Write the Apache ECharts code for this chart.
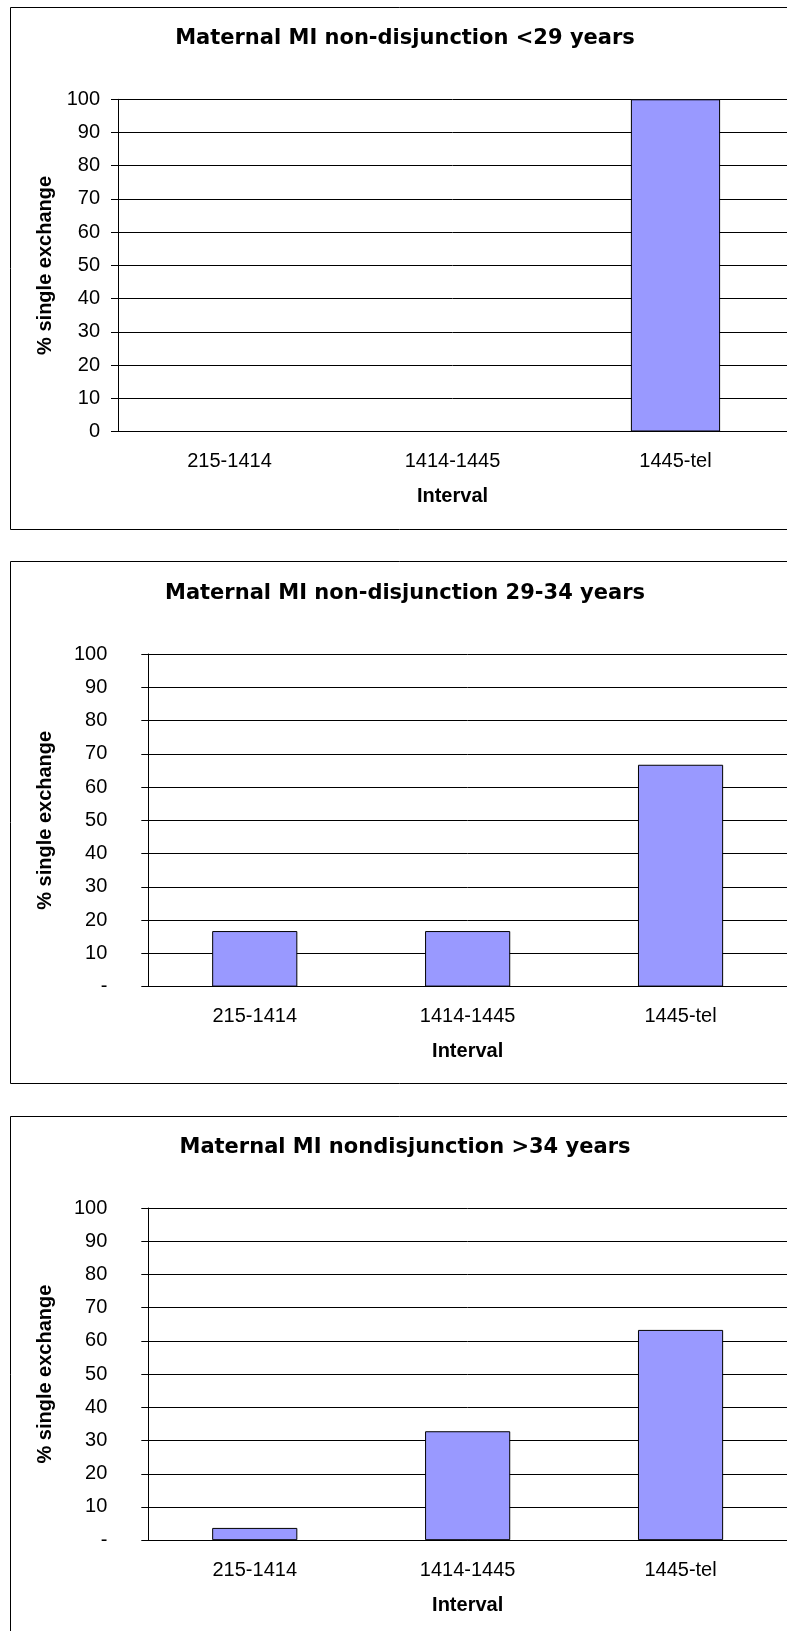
<!DOCTYPE html>
<html>
<head>
<meta charset="utf-8">
<script src="https://cdn.jsdelivr.net/npm/echarts@6/dist/echarts.min.js"></script>
<style>
    html, body { margin: 0; padding: 0; background: #fff; }
    #chart { width: 787px; height: 1631px; }
</style>
</head>
<body>
<div id="chart"></div>
<script>
    // data
    const categories = ['215-1414', '1414-1445', '1445-tel'];
    const chartTitles = [
        'Maternal MI non-disjunction <29 years',
        'Maternal MI non-disjunction 29-34 years',
        'Maternal MI nondisjunction >34 years'
    ];
    const under29 = [0, 0, 100];
    const age29to34 = [16.7, 16.7, 66.7];
    const over34 = [3.7, 32.8, 63.3];
    const zeroLabels = ['0', '-', '-'];
    const yAxisTitle = '% single exchange';
    const xAxisTitle = 'Interval';

    const seriesData = [under29, age29to34, over34];

    // layout of the three panels
    const panels = [
        {frameTop: 7.5, titleY: 38.6, left: 118, top: 99.3, height: 332.2, width: 670, labelMargin: 18, nameGap: 63},
        {frameTop: 561.5, titleY: 593.6, left: 148.3, top: 654, height: 332.6, width: 640.5, labelMargin: 41, nameGap: 93},
        {frameTop: 1116.5, titleY: 1147.4, left: 148.3, top: 1208, height: 332.2, width: 640.5, labelMargin: 41, nameGap: 93}
    ];

    const font = 'Liberation Sans';
    const myChart = echarts.init(document.getElementById('chart'));

    const option = {
        animation: false,
        backgroundColor: '#fff',
        grid: [],
        xAxis: [],
        yAxis: [],
        series: [],
        graphic: []
    };

    panels.forEach(function (p, i) {
        option.graphic.push({
            type: 'rect',
            silent: true,
            shape: {x: 10.5, y: p.frameTop, width: 800, height: 522},
            style: {fill: 'none', stroke: '#000', lineWidth: 1}
        });
        option.graphic.push({
            type: 'text',
            silent: true,
            x: 405,
            y: p.titleY,
            style: {
                text: chartTitles[i],
                font: 'bold 21px "DejaVu Sans"',
                fill: '#000',
                align: 'center',
                verticalAlign: 'middle'
            }
        });
        option.grid.push({left: p.left, top: p.top, width: p.width, height: p.height, containLabel: false});
        option.xAxis.push({
            type: 'category',
            gridIndex: i,
            data: categories,
            name: xAxisTitle,
            nameLocation: 'middle',
            nameGap: 55,
            nameTextStyle: {fontFamily: font, fontWeight: 'bold', fontSize: 20, color: '#000'},
            axisLine: {lineStyle: {color: '#000', width: 1}},
            axisTick: {length: 7, lineStyle: {color: '#000'}},
            axisLabel: {fontFamily: font, fontSize: 20, color: '#000', margin: 20},
            splitLine: {show: false}
        });
        option.yAxis.push({
            type: 'value',
            gridIndex: i,
            min: 0,
            max: 100,
            interval: 10,
            name: yAxisTitle,
            nameLocation: 'middle',
            nameRotate: 90,
            nameGap: p.nameGap,
            nameTextStyle: {fontFamily: font, fontWeight: 'bold', fontSize: 20, color: '#000'},
            axisLine: {show: true, lineStyle: {color: '#000', width: 1}},
            axisTick: {show: true, length: 7, lineStyle: {color: '#000'}},
            axisLabel: {
                fontFamily: font, fontSize: 20, color: '#000', margin: p.labelMargin,
                formatter: function (v) { return v === 0 ? zeroLabels[i] : String(v); }
            },
            splitLine: {show: true, lineStyle: {color: '#000', width: 1}}
        });
        option.series.push({
            type: 'bar',
            xAxisIndex: i,
            yAxisIndex: i,
            data: seriesData[i],
            barWidth: '40%',
            itemStyle: {color: '#9999FF', borderColor: '#000', borderWidth: 1}
        });
    });

    myChart.setOption(option);
</script>
</body>
</html>
